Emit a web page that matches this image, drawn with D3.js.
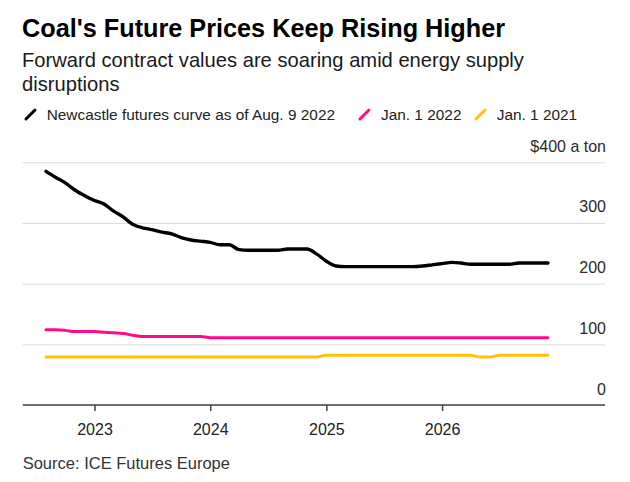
<!DOCTYPE html>
<html><head><meta charset="utf-8">
<script src="https://cdn.jsdelivr.net/npm/d3@7"></script>
<style>
html,body{margin:0;padding:0;background:#fff;}
svg{display:block;font-family:"Liberation Sans",Arial,Helvetica,sans-serif;}
</style></head>
<body>
<svg id="chart" width="630" height="482"></svg>
<script>
// ---- data ----
const months = d3.timeMonth.range(new Date(2022,7,1), new Date(2027,0,1)).map(d3.timeFormat("%Y-%m"));
const newcastleAug2022 = [385,375,366,354,345,337,331,320,310,298,292,289,285,282,276,272,270,268,264,264,256,255,255,255,255,257,257,257,249,237,229,228,228,228,228,228,228,228,228,229,231,233,235,234,232,232,232,232,232,234,234,234,234];
const jan2022 = [124,124,123,121,121,121,120,119,118,115,113,113,113,113,113,113,113,111,111,111,111,111,111,111,111,111,111,111,111,111,111,111,111,111,111,111,111,111,111,111,111,111,111,111,111,111,111,111,111,111,111,111,111];
const jan2021 = [79,79,79,79,79,79,79,79,79,79,79,79,79,79,79,79,79,79,79,79,79,79,79,79,79,79,79,79,79,82,82,82,82,82,82,82,82,82,82,82,82,82,82,82,82,79,79,82,82,82,82,82,82];
const seriesNames = ["Newcastle futures curve as of Aug. 9 2022","Jan. 1 2022","Jan. 1 2021"];
const seriesColors = ["#000000","#ff0a8c","#ffc20a"];
const yTicks = [0,100,200,300,400];
const xTickYears = [2023,2024,2025,2026];

const svg = d3.select("#chart");
const parse = d3.timeParse("%Y-%m");
const dates = months.map(parse);

const plotL = 22.7, plotR = 605;
const x = d3.scaleTime().domain([dates[0], dates[dates.length-1]]).range([46, 548]);
const y = d3.scaleLinear().domain([0,400]).range([405, 162.3]);

function fit(sel, target){
  const w = sel.node().getComputedTextLength();
  const fs = parseFloat(sel.attr("font-size"));
  sel.attr("font-size", (fs*target/w).toFixed(2));
}
const title = svg.append("text").attr("x",22).attr("y",36.7).attr("font-size",24).attr("font-weight","bold").attr("fill","#000")
  .text("Coal's Future Prices Keep Rising Higher");
fit(title, 483);
const sub1 = svg.append("text").attr("x",22).attr("y",66.7).attr("font-size",19).attr("fill","#1a1a1a")
  .text("Forward contract values are soaring amid energy supply");
fit(sub1, 502);
svg.append("text").attr("x",22).attr("y",90.7).attr("font-size",sub1.attr("font-size")).attr("fill","#1a1a1a").text("disruptions");

// legend
const legendX = [[25,46.7],[359,381],[475,496.7]];
seriesNames.forEach((n,i)=>{
  const g = svg.append("g");
  g.append("line").attr("x1",legendX[i][0]+1).attr("y1",119).attr("x2",legendX[i][0]+10).attr("y2",110)
    .attr("stroke",seriesColors[i]).attr("stroke-width",3).attr("stroke-linecap","round");
  g.append("text").attr("x",legendX[i][1]).attr("y",120).attr("font-size",15.4).attr("fill","#222").text(n);
});

// y axis / gridlines
const yAxis = d3.axisRight(y).tickValues(yTicks).tickSize(plotR-plotL)
  .tickFormat(d => d===400 ? "$400 a ton" : d);
const yg = svg.append("g").attr("transform",`translate(${plotL},0)`).call(yAxis);
yg.select(".domain").remove();
yg.selectAll(".tick line").attr("stroke","#dcdcdc").attr("stroke-width",1);
yg.selectAll(".tick text").attr("x",plotR-plotL+1).attr("dy",-11).attr("text-anchor","end")
  .attr("font-size",16).attr("fill","#2a2a2a").attr("font-family","Liberation Sans,Arial,sans-serif");

// lines
const line = d3.line().x((d,i)=>x(dates[i])).y(d=>y(d)).curve(d3.curveMonotoneX);
[jan2021, jan2022, newcastleAug2022].forEach((s,j)=>{
  const i = 2-j;
  svg.append("path").datum(s).attr("d",line).attr("fill","none").attr("stroke",seriesColors[i])
    .attr("stroke-width", i===0?3.4:3).attr("stroke-linejoin","round").attr("stroke-linecap","round");
});

// x axis
svg.append("line").attr("x1",plotL).attr("x2",plotR).attr("y1",y(0)).attr("y2",y(0)).attr("stroke","#444").attr("stroke-width",1.5);
const xAxis = d3.axisBottom(x).tickValues(xTickYears.map(yy=>new Date(yy,0,1))).tickSize(6).tickPadding(13)
  .tickFormat(d3.timeFormat("%Y"));
const xg = svg.append("g").attr("transform",`translate(0,${y(0)})`).call(xAxis);
xg.select(".domain").remove();
xg.selectAll(".tick line").attr("stroke","#444").attr("stroke-width",1.5);
xg.selectAll(".tick text").attr("font-size",16).attr("fill","#222").attr("font-family","Liberation Sans,Arial,sans-serif");

// source
svg.append("text").attr("x",22.7).attr("y",469).attr("font-size",16.5).attr("fill","#333").text("Source: ICE Futures Europe");
</script>
</body></html>
